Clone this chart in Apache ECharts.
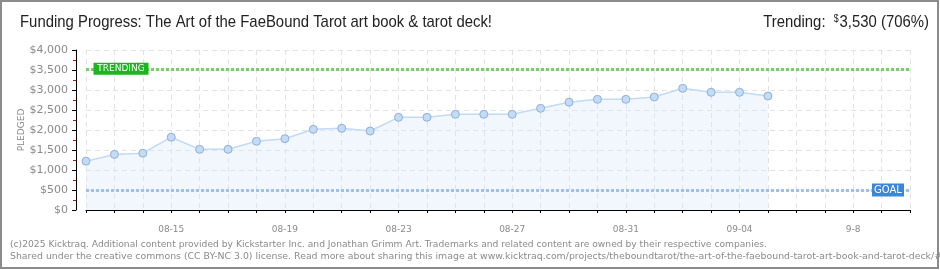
<!DOCTYPE html>
<html>
<head>
<meta charset="utf-8">
<script src="https://cdn.jsdelivr.net/npm/echarts@6/dist/echarts.min.js"></script>
<style>html,body{margin:0;padding:0;background:#fff}#c{width:940px;height:270px}</style>
</head>
<body>
<div id="c"></div>
<script>
var categories = ['08-12','08-13','08-14','08-15','08-16','08-17','08-18','08-19','08-20','08-21','08-22','08-23','08-24','08-25','08-26','08-27','08-28','08-29','08-30','08-31','09-01','09-02','09-03','09-04','09-05','09-06','09-07','09-08','09-09','09-10'];
var pledged = [1220,1390,1420,1820,1517,1517,1717,1783,2017,2042,1975,2317,2317,2392,2392,2392,2542,2695,2767,2767,2825,3042,2942,2942,2850];
var labelAt = ['08-15','08-19','08-23','08-27','08-31','09-04','09-08'];
var labelText = ['08-15','08-19','08-23','08-27','08-31','09-04','9-8'];
var trending = 3530;
var goal = 500;
var titleText = 'Funding Progress: The Art of the FaeBound Tarot art book & tarot deck!';
var trendText = 'Trending:';
var trendValue = '3,530 (706%)';
var footer1 = '(c)2025 Kicktraq. Additional content provided by Kickstarter Inc. and Jonathan Grimm Art. Trademarks and related content are owned by their respective companies.';
var footer2 = 'Shared under the creative commons (CC BY-NC 3.0) license. Read more about sharing this image at www.kicktraq.com/projects/theboundtarot/the-art-of-the-faebound-tarot-art-book-and-tarot-deck/#';

var ctx = document.createElement('canvas').getContext('2d');
function fitScale(txt, font, target){ ctx.font = font; return target / ctx.measureText(txt).width; }
var titleFont = '17px "Liberation Sans"';
var titleScale = fitScale(titleText, titleFont, 472);
var footFont = '9.5px "DejaVu Sans"';
var footScale1 = fitScale(footer1, footFont, 757);
var footScale2 = fitScale(footer2, footFont, 932);

var chart = echarts.init(document.getElementById('c'), null, {renderer:'canvas'});
var grey = '#8a8a8a';
chart.setOption({
  animation:false,
  grid:{left:86,right:30,top:50,bottom:60},
  xAxis:{
    type:'category', data:categories, boundaryGap:false, offset:10,
    axisLine:{lineStyle:{color:'#000',width:1}},
    axisTick:{show:true,interval:0,length:3,lineStyle:{color:'#000'}},
    axisLabel:{interval:0,color:grey,fontFamily:'DejaVu Sans',fontSize:9,margin:5,
      formatter:function(v){var i=labelAt.indexOf(v);return i>=0?labelText[i]:'';}},
    splitLine:{show:true,interval:0,lineStyle:{color:'#e3e3e3',type:[5,4]}}
  },
  yAxis:{
    type:'value', min:0, max:4000, interval:500, offset:10,
    name:'PLEDGED', nameLocation:'middle', nameGap:50, nameMoveOverlap:false,
    nameTextStyle:{color:grey,fontFamily:'DejaVu Sans',fontSize:9},
    axisLine:{show:true,lineStyle:{color:'#000'}},
    axisTick:{show:true,length:4,lineStyle:{color:'#000'}},
    minorTick:{show:true,splitNumber:2,length:3,lineStyle:{color:'#e00000'}},
    axisLabel:{color:grey,fontFamily:'DejaVu Sans',fontSize:11,margin:8,
      formatter:function(v){return '$'+v.toLocaleString('en-US');}},
    splitLine:{show:true,lineStyle:{color:'#e3e3e3',type:[5,4]}}
  },
  series:[{
    type:'line', data:pledged, symbol:'circle', symbolSize:8,
    lineStyle:{color:'#c3daf4',width:1.5},
    itemStyle:{color:'#c2dbf6',borderColor:'#8fb0d4',borderWidth:1},
    areaStyle:{color:'rgba(214,231,250,0.45)'},
    markLine:{
      silent:true, symbol:'none', label:{show:false},
      data:[
        {yAxis:trending, lineStyle:{color:'#78cf68',width:3,type:[3,2]}},
        {yAxis:goal, lineStyle:{color:'#a0c0e6',width:3,type:[3,2]}}
      ]
    },
    markPoint:{
      silent:true,
      data:[
        {coord:[categories[0],trending],symbol:'rect',symbolSize:[55,12],symbolOffset:[35,0],
          itemStyle:{color:'#1db41d'},
          label:{show:true,formatter:'TRENDING',color:'#fff',fontFamily:'DejaVu Sans',fontSize:9}},
        {coord:[categories[categories.length-1],goal],symbol:'rect',symbolSize:[32,13],symbolOffset:[-22,0],
          itemStyle:{color:'#3a86d8'},
          label:{show:true,formatter:'GOAL',color:'#fff',fontFamily:'DejaVu Sans',fontSize:10}}
      ]
    }
  }],
  graphic:[
    {type:'text',x:20,y:14,scaleX:titleScale,style:{text:titleText,fill:'#222',font:titleFont}},
    {type:'text',x:929,y:14,scaleX:titleScale,style:{text:trendText+'  {s|$}'+trendValue,fill:'#222',font:titleFont,align:'right',
      rich:{s:{fontSize:10,fontFamily:'Liberation Sans',verticalAlign:'top',fill:'#222',padding:[0,1,6,0]}}}},
    {type:'text',x:10,y:239.5,scaleX:footScale1,style:{text:footer1,fill:grey,font:footFont}},
    {type:'text',x:10,y:251.5,scaleX:footScale2,style:{text:footer2,fill:grey,font:footFont}},
    {type:'rect',shape:{x:1,y:1,width:937,height:267},style:{fill:'none',stroke:'#8c8c8c',lineWidth:2},silent:true,z:100}
  ]
});
</script>
</body>
</html>
